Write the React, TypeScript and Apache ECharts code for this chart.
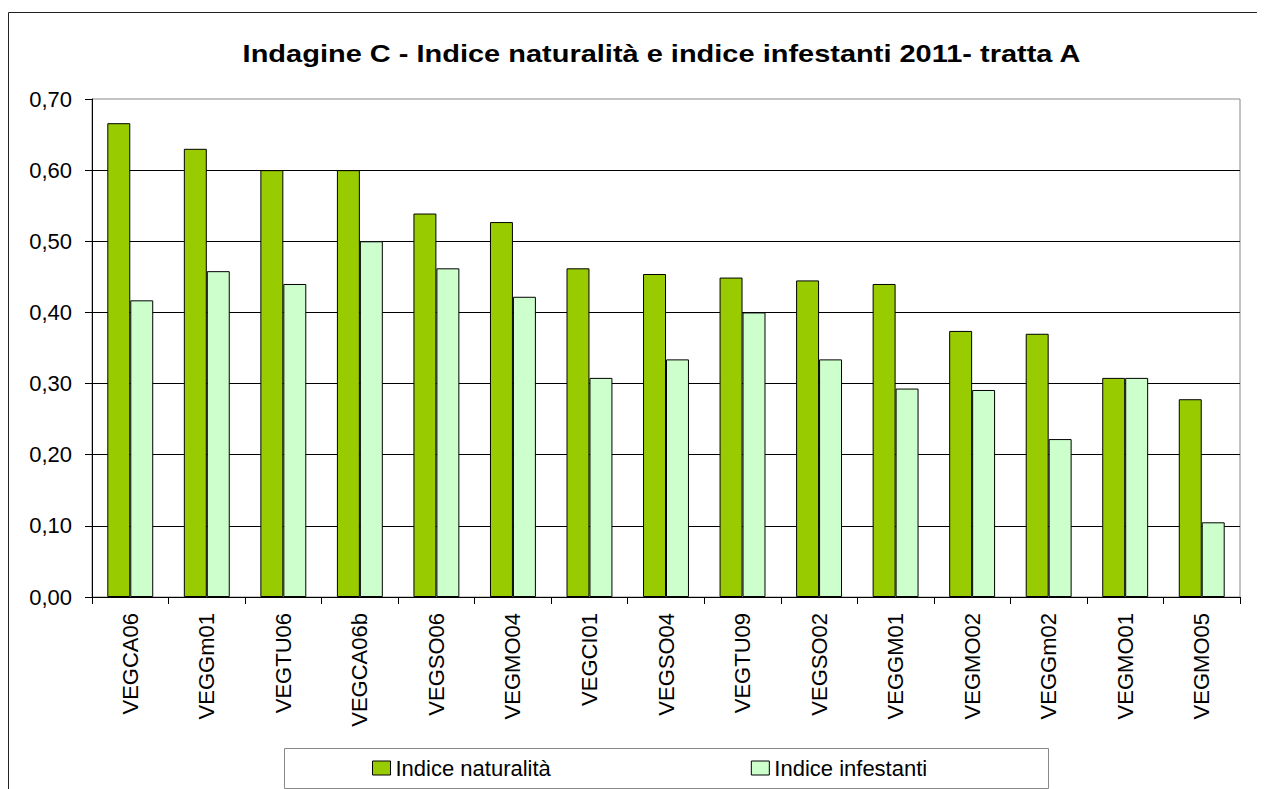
import React, { useEffect, useRef } from "react";
import * as echarts from "echarts";

const categories = [
  "VEGCA06", "VEGGm01", "VEGTU06", "VEGCA06b", "VEGSO06", "VEGMO04", "VEGCI01", "VEGSO04",
  "VEGTU09", "VEGSO02", "VEGGM01", "VEGMO02", "VEGGm02", "VEGMO01", "VEGMO05",
];
const naturalita = [0.666, 0.63, 0.6, 0.6, 0.539, 0.527, 0.462, 0.454, 0.449, 0.445, 0.44, 0.374, 0.37, 0.308, 0.278];
const infestanti = [0.417, 0.458, 0.44, 0.5, 0.462, 0.422, 0.308, 0.334, 0.4, 0.334, 0.293, 0.291, 0.222, 0.308, 0.105];
const seriesNames = ["Indice naturalità", "Indice infestanti"];
const titleText = "Indagine C - Indice naturalità e indice infestanti 2011- tratta A";

const FONT = "'Liberation Sans', Arial, sans-serif";

export default function App() {
  const ref = useRef<HTMLDivElement>(null);
  useEffect(() => {
    document.body.style.overflow = "hidden";
    const chart = echarts.init(ref.current!, null, { renderer: "svg" });
    chart.setOption({
      animation: false,
      backgroundColor: "#fff",
      textStyle: { fontFamily: FONT, color: "#000" },
      graphic: [
        {
          type: "polyline",
          shape: { points: [[0.5, 800], [0.5, 4.5], [1300, 4.5]] },
          style: { fill: "none", stroke: "#222", lineWidth: 1 },
          silent: true,
          z: -10,
        },
        {
          type: "rect",
          shape: { x: 276.5, y: 740.5, width: 764, height: 40 },
          style: { fill: "#fff", stroke: "#888", lineWidth: 1 },
          silent: true,
          z: -5,
        },
        {
          type: "text",
          x: 653.5,
          y: 46,
          scaleX: 1.26,
          scaleY: 1,
          style: {
            text: titleText,
            fontFamily: FONT,
            fontSize: 23,
            fontWeight: "bold",
            fill: "#000",
            textAlign: "center",
            textVerticalAlign: "middle",
          },
          silent: true,
        },
      ],
      legend: {
        data: seriesNames,
        left: 364,
        top: 749,
        padding: 0,
        itemWidth: 18,
        itemHeight: 14,
        itemGap: 200,
        icon: "rect",
        textStyle: { fontFamily: FONT, fontSize: 22, color: "#000" },
        itemStyle: { borderColor: "#000", borderWidth: 1 },
      },
      grid: {
        left: 84,
        top: 91,
        right: 25,
        bottom: 192,
        show: true,
        borderColor: "#888",
        borderWidth: 1,
        backgroundColor: "transparent",
      },
      xAxis: {
        type: "category",
        data: categories,
        axisLine: { lineStyle: { color: "#000", width: 1 } },
        axisTick: { show: true, length: 7, interval: 0, lineStyle: { color: "#000" } },
        axisLabel: {
          interval: 0,
          rotate: 90,
          margin: 16,
          fontFamily: FONT,
          fontSize: 22,
          color: "#000",
        },
      },
      yAxis: {
        type: "value",
        min: 0,
        max: 0.7,
        interval: 0.1,
        axisLine: { show: true, lineStyle: { color: "#000", width: 1 } },
        axisTick: { show: true, length: 7, lineStyle: { color: "#000" } },
        axisLabel: {
          margin: 20,
          fontFamily: FONT,
          fontSize: 22,
          color: "#000",
          formatter: (v: number) => v.toFixed(2).replace(".", ","),
        },
        splitLine: {
          show: true,
          showMinLine: false,
          showMaxLine: false,
          lineStyle: { color: "#000", width: 1 },
        },
      },
      series: [
        {
          name: seriesNames[0],
          type: "bar",
          data: naturalita,
          barGap: "0%",
          barCategoryGap: "40%",
          itemStyle: { color: "#99CC00", borderColor: "#000", borderWidth: 1 },
        },
        {
          name: seriesNames[1],
          type: "bar",
          data: infestanti,
          barGap: "0%",
          barCategoryGap: "40%",
          itemStyle: { color: "#CCFFCC", borderColor: "#000", borderWidth: 1 },
        },
      ],
    });
    return () => chart.dispose();
  }, []);
  return <div ref={ref} style={{ width: 1257, height: 781 }} />;
}
